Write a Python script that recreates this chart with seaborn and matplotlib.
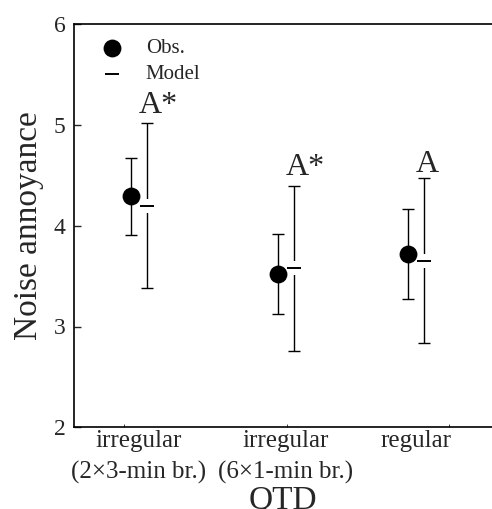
import numpy as np
import pandas as pd
import matplotlib
matplotlib.use("Agg")
import matplotlib.pyplot as plt
import seaborn as sns

# ---- data ----
categories = ["irregular\n(2\u00d73-min br.)", "irregular\n(6\u00d71-min br.)", "regular"]
obs_mean = [4.29, 3.52, 3.72]
obs_low = [3.91, 3.12, 3.27]
obs_high = [4.67, 3.92, 4.17]
model_mean = [4.20, 3.58, 3.65]
model_low = [3.38, 2.76, 2.84]
model_high = [5.02, 4.39, 4.47]
letters = ["A*", "A*", "A"]
letter_y = [5.12, 4.50, 4.53]
yticks = [2, 3, 4, 5, 6]

# ---- layout ----
cat_pos = np.array([0.0, 1.0, 1.885])
off = 0.0565

sns.set_theme(style="ticks")
plt.rcParams["font.family"] = ["Liberation Serif", "DejaVu Serif"]
plt.rcParams["mathtext.fontset"] = "stix"

W, H = 492, 509
fig = plt.figure(figsize=(W / 100, H / 100), dpi=100)
left = 74 / W
bottom = (H - 427.3) / H
top = 1 - 24.1 / H
ax = fig.add_axes([left, bottom, 1.0 - left, top - bottom])

obs_df = pd.DataFrame({"x": cat_pos - off, "y": obs_mean, "kind": "Obs."})
mod_df = pd.DataFrame({"x": cat_pos + off, "y": model_mean, "kind": "Model"})

# error bars
ax.errorbar(obs_df["x"], obs_df["y"],
            yerr=[np.array(obs_mean) - np.array(obs_low), np.array(obs_high) - np.array(obs_mean)],
            fmt="none", ecolor="black", elinewidth=1.0, capsize=4.5, capthick=1.0, zorder=2)
ax.errorbar(mod_df["x"], mod_df["y"],
            yerr=[np.array(model_mean) - np.array(model_low), np.array(model_high) - np.array(model_mean)],
            fmt="none", ecolor="black", elinewidth=1.0, capsize=4.5, capthick=1.0, zorder=2)
# white gap around model dash
ax.plot(mod_df["x"], mod_df["y"], linestyle="none", marker="|", markersize=10,
        markeredgewidth=4, color="white", zorder=3)

sns.scatterplot(data=obs_df, x="x", y="y", ax=ax, color="black", s=165,
                marker="o", edgecolor="black", linewidth=0, zorder=4, label="Obs.")
sns.scatterplot(data=mod_df, x="x", y="y", ax=ax, color="black", s=110,
                marker="_", linewidth=1.4, zorder=4, label="Model")

for xp, ly, t in zip(cat_pos + off, letter_y, letters):
    ax.text(xp - 0.06, ly, t, ha="left", va="baseline", fontsize=23)

ax.set_xlim(-0.442, 2.402)
ax.set_ylim(2, 6)
ax.set_yticks(yticks)
ax.set_yticklabels([str(v) for v in yticks], fontsize=17)
ax.set_xticks(cat_pos)
ax.set_xticklabels(categories, fontsize=18, linespacing=1.5)
ax.tick_params(axis="x", length=0, pad=2)
ax.set_xticks([-0.102, 1.007, 2.109], minor=True)
ax.tick_params(axis="x", which="minor", direction="in", length=2, width=0.6)
ax.tick_params(axis="y", direction="in", length=5, width=1.0, pad=6, left=True)

ax.set_ylabel("Noise annoyance", fontsize=24, labelpad=7)
ax.set_xlabel("QTD", fontsize=24, labelpad=1)

for s in ["left", "bottom", "top"]:
    ax.spines[s].set_linewidth(1.2)
    ax.spines[s].set_color("black")
ax.spines["right"].set_visible(False)

leg = ax.legend(loc="upper left", bbox_to_anchor=(0.007, 1.0), frameon=False,
                fontsize=15, handletextpad=0.6, labelspacing=0.3, borderaxespad=0.3)

fig.savefig("out.png", dpi=100)
